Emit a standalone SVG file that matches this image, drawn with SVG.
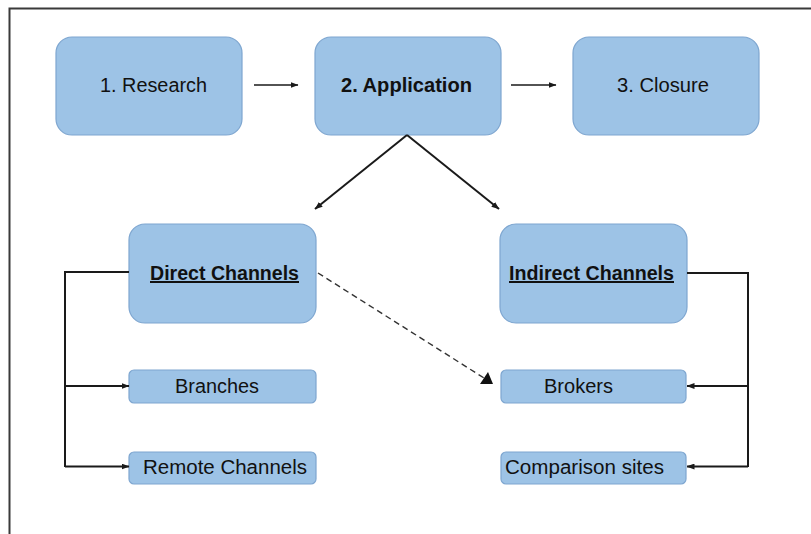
<svg xmlns="http://www.w3.org/2000/svg" width="811" height="534" viewBox="0 0 811 534">
  <defs>
    <style>
      .box { fill: #9DC3E6; stroke: #7EA6D0; stroke-width: 1.2; }
      .lbl { font-family: "Liberation Sans", Arial, sans-serif; fill: #111111; }
      .big { font-size: 20px; }
      .small { font-size: 19.5px; }
      .b { font-weight: bold; }
      .u { text-decoration: underline; }
      .wire { fill: none; stroke: #1a1a1a; stroke-width: 2; }
      .thin { fill: none; stroke: #1a1a1a; stroke-width: 1.6; }
      .dash { fill: none; stroke: #333; stroke-width: 1.4; stroke-dasharray: 6 4; }
    </style>
    <marker id="head" markerWidth="8" markerHeight="6" refX="7.5" refY="3" orient="auto" markerUnits="userSpaceOnUse">
      <path d="M0,0 L8,3 L0,6 Z" fill="#1a1a1a"/>
    </marker>
  </defs>

  <rect width="811" height="534" fill="#ffffff"/>
  <!-- frame (left and top edges only) -->
  <path d="M9.5,534 V8.5 H811" fill="none" stroke="#3a3a3a" stroke-width="2"/>

  <g id="research">
    <rect class="box" x="56" y="37" width="186" height="98" rx="16"/>
    <text class="lbl big" x="153.5" y="92" text-anchor="middle" textLength="107" lengthAdjust="spacingAndGlyphs">1. Research</text>
  </g>
  <g id="application">
    <rect class="box" x="315" y="37" width="186" height="98" rx="16"/>
    <text class="lbl big b" x="406.5" y="92" text-anchor="middle" textLength="131" lengthAdjust="spacingAndGlyphs">2. Application</text>
  </g>
  <g id="closure">
    <rect class="box" x="573" y="37" width="186" height="98" rx="16"/>
    <text class="lbl big" x="663" y="92" text-anchor="middle" textLength="92" lengthAdjust="spacingAndGlyphs">3. Closure</text>
  </g>

  <g id="direct-channels">
    <rect class="box" x="129" y="224" width="187" height="99" rx="16"/>
    <text class="lbl big b u" x="224.5" y="280" text-anchor="middle" textLength="149" lengthAdjust="spacingAndGlyphs">Direct Channels</text>
  </g>
  <g id="indirect-channels">
    <rect class="box" x="500" y="224" width="187" height="99" rx="16"/>
    <text class="lbl big b u" x="591.5" y="280" text-anchor="middle" textLength="165" lengthAdjust="spacingAndGlyphs">Indirect Channels</text>
  </g>

  <g id="branches">
    <rect class="box" x="129" y="370" width="187" height="33" rx="5"/>
    <text class="lbl small" x="175" y="393" textLength="84" lengthAdjust="spacingAndGlyphs">Branches</text>
  </g>
  <g id="remote-channels">
    <rect class="box" x="129" y="452" width="187" height="32" rx="5"/>
    <text class="lbl small" x="143" y="474" textLength="164" lengthAdjust="spacingAndGlyphs">Remote Channels</text>
  </g>
  <g id="brokers">
    <rect class="box" x="501" y="370" width="185" height="33" rx="5"/>
    <text class="lbl small" x="544" y="393" textLength="69" lengthAdjust="spacingAndGlyphs">Brokers</text>
  </g>
  <g id="comparison-sites">
    <rect class="box" x="501" y="452" width="185" height="32" rx="5"/>
    <text class="lbl small" x="505" y="474" textLength="159" lengthAdjust="spacingAndGlyphs">Comparison sites</text>
  </g>

  <g id="connectors">
    <!-- stage flow -->
    <line class="thin" x1="254" y1="85" x2="298" y2="85" marker-end="url(#head)"/>
    <line class="thin" x1="511" y1="85" x2="556" y2="85" marker-end="url(#head)"/>
    <!-- application splits into the two channel types -->
    <line class="wire" x1="407" y1="135" x2="315" y2="209" marker-end="url(#head)"/>
    <line class="wire" x1="407" y1="135" x2="499" y2="209" marker-end="url(#head)"/>
    <!-- direct channels bracket -->
    <path class="wire" d="M129,272 H65 V467"/>
    <line class="wire" x1="65" y1="386" x2="129" y2="386" marker-end="url(#head)"/>
    <line class="wire" x1="65" y1="466.5" x2="129" y2="466.5" marker-end="url(#head)"/>
    <!-- indirect channels bracket -->
    <path class="wire" d="M687,273 H748 V467"/>
    <line class="wire" x1="748" y1="386" x2="687" y2="386" marker-end="url(#head)"/>
    <line class="wire" x1="748" y1="466.5" x2="687" y2="466.5" marker-end="url(#head)"/>
    <!-- dashed link direct -> brokers -->
    <line class="dash" x1="318" y1="273" x2="484" y2="378"/>
    <polygon points="480,384 493,384 488,372" fill="#111"/>
  </g>
</svg>
